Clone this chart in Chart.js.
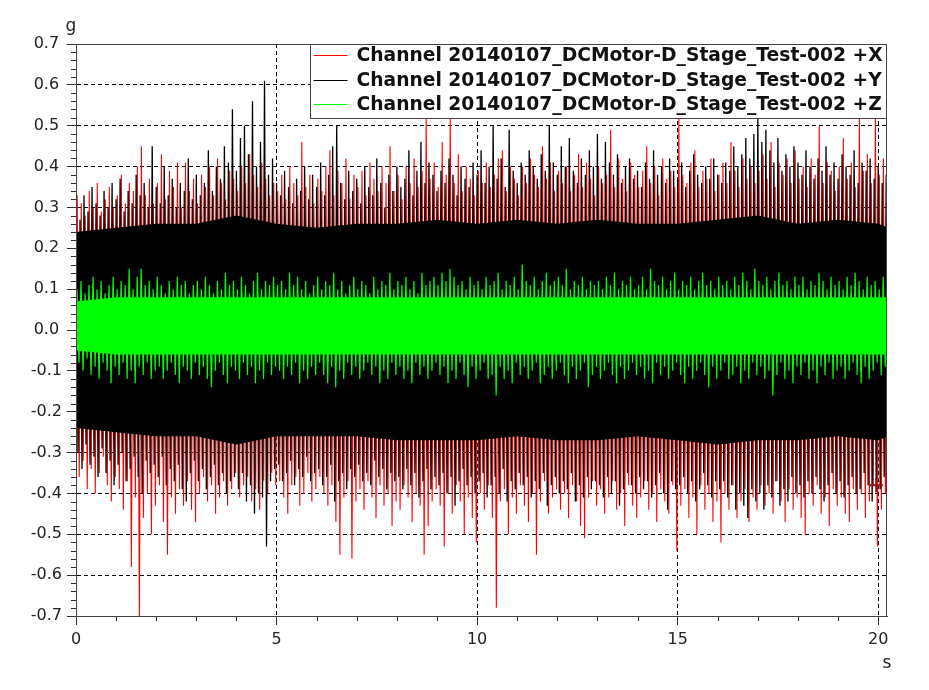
<!DOCTYPE html>
<html>
<head>
<meta charset="utf-8">
<script src="https://cdn.jsdelivr.net/npm/chart.js@4.4.1/dist/chart.umd.min.js"></script>
<style>
  html, body { margin: 0; padding: 0; background: #fff; }
  #wrap { width: 929px; height: 690px; }
</style>
</head>
<body>
<div id="wrap"><canvas id="chart" width="929" height="690"></canvas></div>
<script>
// sample spacing of the peak arrays (s)
const step = 0.1;

const labels = [
  'Channel 20140107_DCMotor-D_Stage_Test-002 +X',
  'Channel 20140107_DCMotor-D_Stage_Test-002 +Y',
  'Channel 20140107_DCMotor-D_Stage_Test-002 +Z'
];
const xTicks = [0, 5, 10, 15, 20];
const yTicks = [-0.7, -0.6, -0.5, -0.4, -0.3, -0.2, -0.1, 0, 0.1, 0.2, 0.3, 0.4, 0.5, 0.6, 0.7];

// +X (red) positive / negative peaks, one pair every 0.1 s
const redHi = [
  0.33,0.31,0.28,0.34,0.30,0.36,0.29,0.32,0.35,0.30,
  0.33,0.38,0.31,0.36,0.34,0.40,0.45,0.33,0.37,0.31,
  0.36,0.43,0.32,0.39,0.35,0.41,0.30,0.41,0.34,0.37,
  0.31,0.38,0.35,0.40,0.33,0.42,0.36,0.32,0.39,0.37,
  0.34,0.40,0.36,0.43,0.38,0.35,0.41,0.37,0.33,0.36,
  0.34,0.38,0.32,0.40,0.36,0.33,0.46,0.35,0.38,0.31,
  0.37,0.34,0.40,0.44,0.33,0.39,0.36,0.42,0.32,0.38,
  0.35,0.39,0.33,0.41,0.37,0.34,0.40,0.36,0.45,0.34,
  0.38,0.32,0.40,0.36,0.42,0.35,0.39,0.52,0.37,0.41,
  0.35,0.46,0.38,0.52,0.36,0.43,0.34,0.40,0.37,0.33,
  0.39,0.36,0.41,0.35,0.38,0.42,0.44,0.34,0.40,0.37,
  0.33,0.40,0.36,0.42,0.38,0.35,0.45,0.37,0.41,0.34,
  0.39,0.36,0.40,0.34,0.38,0.43,0.35,0.41,0.37,0.33,
  0.40,0.36,0.38,0.49,0.35,0.42,0.37,0.34,0.41,0.38,
  0.35,0.39,0.45,0.36,0.40,0.33,0.42,0.37,0.39,0.35,
  0.52,0.38,0.36,0.41,0.44,0.35,0.39,0.37,0.42,0.34,
  0.38,0.41,0.36,0.46,0.39,0.35,0.42,0.37,0.40,0.36,
  0.39,0.43,0.37,0.46,0.35,0.41,0.38,0.42,0.36,0.44,
  0.37,0.40,0.35,0.42,0.38,0.50,0.36,0.41,0.39,0.34,
  0.40,0.47,0.37,0.41,0.35,0.52,0.39,0.43,0.36,0.52,
  0.38,0.42,0.35
];
const redLo = [
  -0.36,-0.32,-0.39,-0.34,-0.40,-0.35,-0.31,-0.38,-0.42,-0.36,
  -0.39,-0.44,-0.37,-0.58,-0.41,-0.70,-0.46,-0.40,-0.50,-0.43,
  -0.38,-0.47,-0.55,-0.41,-0.45,-0.39,-0.43,-0.37,-0.44,-0.47,
  -0.40,-0.36,-0.42,-0.38,-0.45,-0.41,-0.37,-0.43,-0.39,-0.35,
  -0.41,-0.38,-0.36,-0.42,-0.39,-0.44,-0.37,-0.40,-0.35,-0.38,
  -0.37,-0.41,-0.45,-0.38,-0.36,-0.43,-0.40,-0.35,-0.42,-0.39,
  -0.36,-0.40,-0.43,-0.38,-0.47,-0.55,-0.41,-0.37,-0.56,-0.42,
  -0.39,-0.44,-0.37,-0.41,-0.46,-0.38,-0.43,-0.40,-0.48,-0.42,
  -0.44,-0.38,-0.41,-0.47,-0.40,-0.43,-0.55,-0.48,-0.42,-0.39,
  -0.43,-0.53,-0.40,-0.45,-0.38,-0.42,-0.50,-0.41,-0.46,-0.52,
  -0.40,-0.44,-0.38,-0.46,-0.68,-0.42,-0.39,-0.50,-0.41,-0.45,
  -0.38,-0.43,-0.47,-0.40,-0.55,-0.42,-0.37,-0.45,-0.41,-0.39,
  -0.44,-0.40,-0.46,-0.38,-0.42,-0.48,-0.51,-0.41,-0.37,-0.43,
  -0.39,-0.45,-0.41,-0.37,-0.44,-0.40,-0.48,-0.38,-0.43,-0.46,
  -0.41,-0.37,-0.44,-0.40,-0.47,-0.39,-0.42,-0.45,-0.38,-0.54,
  -0.43,-0.39,-0.46,-0.41,-0.50,-0.38,-0.44,-0.40,-0.47,-0.42,
  -0.52,-0.40,-0.44,-0.38,-0.46,-0.42,-0.39,-0.47,-0.41,-0.44,
  -0.38,-0.43,-0.40,-0.45,-0.37,-0.42,-0.47,-0.39,-0.44,-0.41,
  -0.46,-0.50,-0.40,-0.43,-0.38,-0.45,-0.41,-0.48,-0.39,-0.43,
  -0.41,-0.45,-0.47,-0.39,-0.44,-0.40,-0.46,-0.42,-0.38,-0.53,
  -0.44,-0.40,-0.37
];

// +Y (black)
const blackHi = [
  0.30,0.27,0.33,0.29,0.35,0.31,0.28,0.34,0.30,0.36,
  0.32,0.37,0.29,0.34,0.31,0.38,0.33,0.36,0.30,0.45,
  0.35,0.31,0.40,0.33,0.37,0.30,0.36,0.34,0.42,0.32,
  0.38,0.33,0.36,0.44,0.34,0.40,0.37,0.45,0.41,0.54,
  0.39,0.47,0.50,0.43,0.56,0.40,0.46,0.61,0.38,0.42,
  0.36,0.33,0.39,0.35,0.31,0.37,0.34,0.40,0.32,0.38,
  0.35,0.41,0.33,0.38,0.45,0.50,0.36,0.32,0.39,0.34,
  0.37,0.31,0.40,0.35,0.33,0.42,0.36,0.30,0.38,0.34,
  0.40,0.35,0.37,0.44,0.33,0.39,0.46,0.36,0.41,0.38,
  0.34,0.39,0.36,0.42,0.38,0.33,0.40,0.37,0.35,0.41,
  0.38,0.44,0.36,0.40,0.50,0.37,0.42,0.35,0.49,0.39,
  0.36,0.41,0.38,0.44,0.40,0.37,0.43,0.39,0.50,0.41,
  0.38,0.45,0.40,0.47,0.39,0.36,0.42,0.38,0.44,0.40,
  0.48,0.37,0.46,0.41,0.38,0.43,0.36,0.40,0.42,0.37,
  0.39,0.35,0.41,0.37,0.44,0.38,0.40,0.36,0.42,0.39,
  0.37,0.41,0.35,0.39,0.43,0.38,0.36,0.40,0.37,0.42,
  0.38,0.36,0.41,0.39,0.45,0.40,0.43,0.47,0.42,0.48,
  0.53,0.46,0.49,0.44,0.41,0.47,0.39,0.43,0.40,0.45,
  0.41,0.38,0.44,0.40,0.37,0.42,0.39,0.45,0.38,0.41,
  0.37,0.43,0.40,0.38,0.44,0.36,0.41,0.39,0.42,0.37,
  0.40,0.36,0.38
];
const blackLo = [
  -0.30,-0.34,-0.28,-0.33,-0.31,-0.36,-0.29,-0.35,-0.32,-0.38,
  -0.33,-0.30,-0.37,-0.34,-0.31,-0.36,-0.40,-0.32,-0.35,-0.33,
  -0.36,-0.31,-0.38,-0.34,-0.37,-0.33,-0.39,-0.42,-0.35,-0.32,
  -0.37,-0.34,-0.39,-0.36,-0.33,-0.38,-0.35,-0.40,-0.37,-0.36,
  -0.39,-0.35,-0.42,-0.38,-0.45,-0.40,-0.41,-0.53,-0.37,-0.34,
  -0.33,-0.37,-0.35,-0.32,-0.38,-0.34,-0.36,-0.31,-0.37,-0.35,
  -0.34,-0.38,-0.36,-0.33,-0.42,-0.37,-0.35,-0.39,-0.34,-0.36,
  -0.33,-0.37,-0.35,-0.38,-0.32,-0.36,-0.34,-0.39,-0.35,-0.37,
  -0.36,-0.39,-0.34,-0.38,-0.35,-0.41,-0.37,-0.34,-0.39,-0.36,
  -0.38,-0.35,-0.40,-0.36,-0.43,-0.37,-0.34,-0.38,-0.36,-0.40,
  -0.37,-0.35,-0.41,-0.38,-0.36,-0.40,-0.34,-0.42,-0.37,-0.39,
  -0.35,-0.38,-0.36,-0.41,-0.37,-0.39,-0.35,-0.43,-0.38,-0.36,
  -0.40,-0.37,-0.39,-0.35,-0.42,-0.38,-0.41,-0.36,-0.39,-0.37,
  -0.38,-0.41,-0.36,-0.40,-0.37,-0.43,-0.39,-0.35,-0.38,-0.40,
  -0.36,-0.39,-0.37,-0.41,-0.38,-0.35,-0.40,-0.44,-0.37,-0.39,
  -0.38,-0.36,-0.40,-0.37,-0.42,-0.39,-0.35,-0.38,-0.41,-0.37,
  -0.39,-0.37,-0.41,-0.38,-0.44,-0.40,-0.43,-0.46,-0.39,-0.42,
  -0.40,-0.44,-0.38,-0.41,-0.37,-0.43,-0.39,-0.42,-0.36,-0.40,
  -0.38,-0.41,-0.37,-0.40,-0.36,-0.39,-0.42,-0.38,-0.35,-0.40,
  -0.37,-0.41,-0.38,-0.36,-0.40,-0.39,-0.35,-0.38,-0.42,-0.37,
  -0.39,-0.36,-0.34
];

// +Z (green)
const greenHi = [
  0.10,0.12,0.09,0.11,0.13,0.10,0.12,0.09,0.11,0.13,
  0.10,0.12,0.11,0.15,0.10,0.13,0.15,0.11,0.12,0.10,
  0.13,0.11,0.09,0.12,0.10,0.13,0.11,0.12,0.09,0.11,
  0.12,0.10,0.13,0.11,0.09,0.12,0.10,0.14,0.11,0.12,
  0.10,0.13,0.11,0.09,0.12,0.14,0.10,0.12,0.11,0.13,
  0.11,0.12,0.10,0.14,0.11,0.13,0.10,0.12,0.09,0.11,
  0.13,0.10,0.12,0.11,0.14,0.10,0.12,0.09,0.11,0.13,
  0.10,0.12,0.11,0.09,0.13,0.10,0.12,0.11,0.14,0.10,
  0.12,0.11,0.13,0.10,0.12,0.09,0.14,0.11,0.12,0.13,
  0.11,0.14,0.12,0.15,0.13,0.11,0.12,0.10,0.13,0.11,
  0.12,0.10,0.13,0.11,0.12,0.14,0.10,0.12,0.11,0.13,
  0.10,0.16,0.12,0.11,0.13,0.10,0.12,0.14,0.11,0.12,
  0.13,0.11,0.15,0.10,0.12,0.11,0.13,0.10,0.12,0.11,
  0.12,0.10,0.13,0.11,0.14,0.10,0.12,0.11,0.13,0.10,
  0.11,0.13,0.10,0.15,0.12,0.11,0.13,0.10,0.12,0.14,
  0.10,0.12,0.11,0.13,0.10,0.12,0.14,0.11,0.12,0.10,
  0.13,0.11,0.12,0.10,0.13,0.11,0.14,0.12,0.10,0.15,
  0.12,0.11,0.13,0.10,0.12,0.14,0.11,0.12,0.10,0.13,
  0.11,0.13,0.10,0.12,0.11,0.14,0.12,0.10,0.13,0.11,
  0.12,0.10,0.13,0.11,0.14,0.12,0.10,0.13,0.11,0.12,
  0.10,0.13,0.11
];
const greenLo = [
  -0.08,-0.10,-0.07,-0.11,-0.09,-0.12,-0.08,-0.10,-0.13,-0.09,
  -0.11,-0.08,-0.12,-0.10,-0.13,-0.09,-0.11,-0.08,-0.12,-0.10,
  -0.09,-0.12,-0.10,-0.08,-0.11,-0.13,-0.09,-0.10,-0.12,-0.08,
  -0.11,-0.09,-0.12,-0.14,-0.10,-0.08,-0.11,-0.13,-0.09,-0.10,
  -0.12,-0.08,-0.11,-0.09,-0.13,-0.10,-0.12,-0.08,-0.11,-0.09,
  -0.10,-0.12,-0.09,-0.11,-0.08,-0.13,-0.10,-0.12,-0.09,-0.11,
  -0.08,-0.11,-0.13,-0.09,-0.14,-0.10,-0.12,-0.08,-0.11,-0.09,
  -0.12,-0.10,-0.08,-0.11,-0.09,-0.13,-0.10,-0.12,-0.08,-0.11,
  -0.09,-0.12,-0.10,-0.13,-0.08,-0.11,-0.09,-0.12,-0.10,-0.08,
  -0.11,-0.09,-0.13,-0.10,-0.12,-0.08,-0.11,-0.14,-0.09,-0.12,
  -0.10,-0.08,-0.12,-0.11,-0.16,-0.09,-0.12,-0.10,-0.13,-0.08,
  -0.11,-0.09,-0.12,-0.10,-0.08,-0.13,-0.11,-0.09,-0.12,-0.10,
  -0.08,-0.11,-0.13,-0.09,-0.12,-0.10,-0.08,-0.14,-0.11,-0.09,
  -0.12,-0.10,-0.08,-0.11,-0.13,-0.09,-0.12,-0.10,-0.08,-0.11,
  -0.09,-0.12,-0.10,-0.13,-0.08,-0.11,-0.09,-0.12,-0.10,-0.08,
  -0.11,-0.13,-0.09,-0.12,-0.10,-0.08,-0.11,-0.14,-0.09,-0.12,
  -0.10,-0.08,-0.12,-0.11,-0.09,-0.13,-0.10,-0.12,-0.08,-0.11,
  -0.09,-0.12,-0.10,-0.16,-0.11,-0.08,-0.12,-0.10,-0.13,-0.09,
  -0.11,-0.08,-0.12,-0.10,-0.13,-0.09,-0.11,-0.08,-0.12,-0.10,
  -0.09,-0.12,-0.10,-0.08,-0.11,-0.13,-0.09,-0.12,-0.10,-0.08,
  -0.11,-0.09,-0.12
];

// channel sampling offsets within a step (s)
const offsets = [0.03, 0, 0.025];

// dense (solid) part of the +Y and +Z bands, read every second
const coreT = [0,1,2,3,4,5,6,7,8,9,10,11,12,13,14,15,16,17,18,19,20,20.25];
const blackCoreHi = [0.24,0.25,0.26,0.26,0.28,0.26,0.25,0.26,0.26,0.27,0.26,0.27,0.26,0.27,0.26,0.26,0.27,0.28,0.26,0.27,0.26,0.25];
const blackCoreLo = [-0.24,-0.25,-0.26,-0.26,-0.28,-0.26,-0.26,-0.26,-0.27,-0.27,-0.27,-0.26,-0.27,-0.27,-0.26,-0.27,-0.28,-0.27,-0.27,-0.26,-0.27,-0.26];
const greenCoreHi = [0.07,0.08,0.08,0.08,0.08,0.08,0.08,0.08,0.08,0.08,0.08,0.08,0.08,0.08,0.08,0.08,0.08,0.08,0.08,0.08,0.08,0.08];
const greenCoreLo = [-0.05,-0.06,-0.06,-0.06,-0.06,-0.06,-0.06,-0.06,-0.06,-0.06,-0.06,-0.06,-0.06,-0.06,-0.06,-0.06,-0.06,-0.06,-0.06,-0.06,-0.06,-0.06];

// cursor cross
const cursorT = 19.95;
const cursorV = -0.38;

const colors = ['#ff0000', '#000000', '#00ff00'];
const widths = [1.1, 1.3, 1.2];
const FONT = "'DejaVu Sans', Verdana, sans-serif";

function zigzag(hi, lo, off) {
  const pts = [];
  hi.forEach((v, i) => {
    pts.push({ x: i * step + off, y: v });
    pts.push({ x: i * step + off + step / 2, y: lo[i] });
  });
  return pts;
}
function band(vals) {
  return coreT.map((t, i) => ({ x: t, y: vals[i] }));
}

function signal(i, hi, lo, order) {
  return {
    label: labels[i], data: zigzag(hi, lo, offsets[i]), borderColor: colors[i],
    borderWidth: widths[i], pointRadius: 0, fill: false, order: order
  };
}
function core(color, vals, fill, order) {
  return {
    label: '', data: band(vals), borderWidth: 0, borderColor: color,
    backgroundColor: color, pointRadius: 0, fill: fill, order: order
  };
}

const datasets = [
  signal(0, redHi, redLo, 7),
  signal(1, blackHi, blackLo, 4),
  signal(2, greenHi, greenLo, 1),
  core(colors[1], blackCoreHi, '+1', 6),
  core(colors[1], blackCoreLo, false, 5),
  core(colors[2], greenCoreHi, '+1', 3),
  core(colors[2], greenCoreLo, false, 2),
  {
    label: '', data: [{ x: cursorT, y: cursorV }], showLine: false,
    pointStyle: 'cross', pointRadius: 7, pointBorderWidth: 2,
    pointBorderColor: '#a01010', order: 0
  }
];

/* frame, minor ticks, unit labels and legend box */
const decor = {
  id: 'decor',
  afterDraw(chart) {
    const { ctx, chartArea: a, scales: { x, y } } = chart;
    ctx.save();
    ctx.lineWidth = 1;
    ctx.strokeStyle = '#333';
    ctx.beginPath();
    for (let s = 0; s <= 20; s++) {
      if (s % 5 === 0) continue;
      const px = Math.round(x.getPixelForValue(s)) + 0.5;
      ctx.moveTo(px, a.bottom);
      ctx.lineTo(px, a.bottom + 5);
    }
    for (let k = -35; k <= 35; k++) {
      if (k % 5 === 0) continue;
      const py = Math.round(y.getPixelForValue(k * 0.02)) + 0.5;
      ctx.moveTo(a.left - 5, py);
      ctx.lineTo(a.left, py);
    }
    ctx.stroke();

    ctx.strokeStyle = '#444';
    ctx.strokeRect(Math.round(a.left) + 0.5, Math.round(a.top) + 0.5,
      Math.round(a.right - a.left) - 1, Math.round(a.bottom - a.top));

    ctx.fillStyle = '#222';
    ctx.font = '17px ' + FONT;
    ctx.textAlign = 'center';
    ctx.textBaseline = 'alphabetic';
    ctx.fillText('g', a.left - 5, 31);
    ctx.fillText('s', a.right, 668);

    // legend
    ctx.font = 'bold 18.7px ' + FONT;
    const maxW = Math.max(...labels.map(l => ctx.measureText(l).width));
    const bw = 46 + maxW + 5;
    const bx = Math.round(a.right - bw) + 0.5;
    const by = Math.round(a.top) + 0.5;
    const bh = 74;
    ctx.fillStyle = '#fff';
    ctx.fillRect(bx, by, a.right - bx, bh);
    ctx.strokeStyle = '#444';
    ctx.strokeRect(bx, by, Math.round(a.right - bx) - 1, bh);
    ctx.textAlign = 'left';
    ctx.textBaseline = 'middle';
    labels.forEach((l, i) => {
      const ry = Math.round(a.top + 11 + i * 24.5) + 0.5;
      ctx.strokeStyle = colors[i];
      ctx.beginPath();
      ctx.moveTo(bx + 3, ry);
      ctx.lineTo(bx + 37, ry);
      ctx.stroke();
      ctx.fillStyle = '#111';
      ctx.fillText(l, bx + 46, ry + 1);
    });
    ctx.restore();
  }
};

const axisFont = { family: FONT, size: 16 };

new Chart(document.getElementById('chart'), {
  type: 'line',
  data: { datasets: datasets },
  options: {
    responsive: false,
    animation: false,
    events: [],
    layout: { padding: { left: 0, top: 44, right: 42, bottom: 0 } },
    plugins: { legend: { display: false }, tooltip: { enabled: false } },
    elements: { line: { tension: 0 } },
    scales: {
      x: {
        type: 'linear', min: 0, max: 20.22,
        afterBuildTicks: s => { s.ticks = xTicks.map(v => ({ value: v })); },
        afterFit: s => { s.height = 74; },
        border: { display: true, color: '#444', width: 1, dash: [4, 3] },
        grid: { color: '#000', lineWidth: 1, drawTicks: true, tickLength: 9, tickColor: '#333', tickBorderDash: [] },
        ticks: { font: axisFont, color: '#222', padding: 5, maxRotation: 0, autoSkip: false, callback: v => String(v) }
      },
      y: {
        type: 'linear', min: -0.7, max: 0.7,
        afterBuildTicks: s => { s.ticks = yTicks.map(v => ({ value: v })); },
        afterFit: s => { s.width = 76; },
        border: { display: true, color: '#444', width: 1, dash: [4, 3] },
        grid: { color: '#000', lineWidth: 1, drawTicks: true, tickLength: 9, tickColor: '#333', tickBorderDash: [] },
        ticks: { font: axisFont, color: '#222', padding: 5, crossAlign: 'center', autoSkip: false, callback: v => v.toFixed(1) }
      }
    }
  },
  plugins: [decor]
});
</script>
</body>
</html>
